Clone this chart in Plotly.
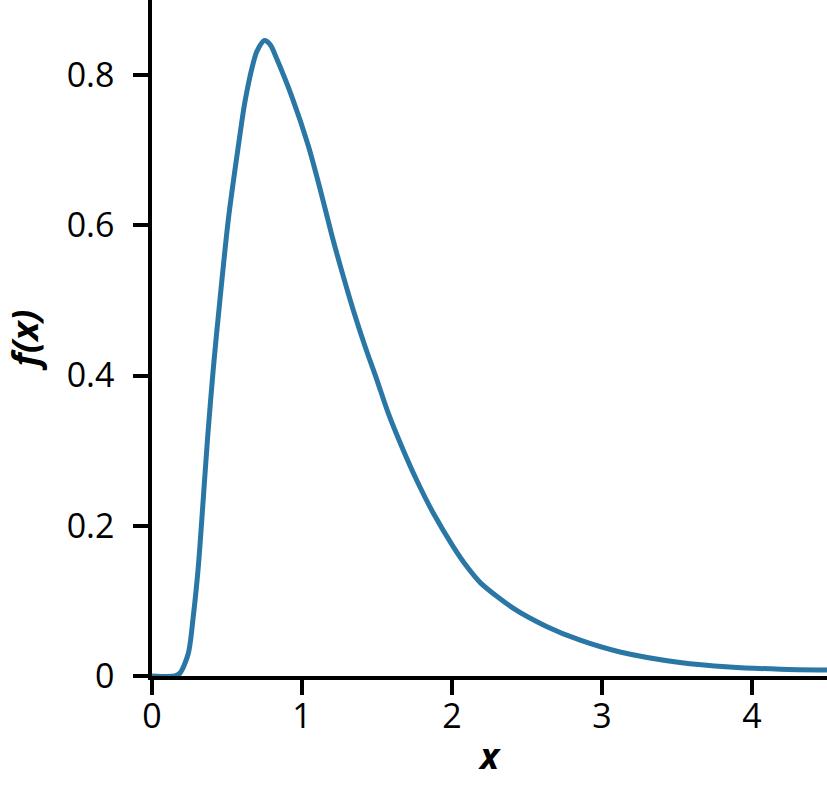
"""
Densité f(x) - courbe unique, reprise du graphique de référence
"""
import plotly.graph_objects as go

# valeurs
x_vals = [0, 0.153, 0.187, 0.242, 0.275, 0.309, 0.338, 0.371, 0.409, 0.453,
          0.509, 0.576, 0.62, 0.676, 0.70, 0.749, 0.79, 0.831, 0.931, 1.042,
          1.125, 1.20, 1.271, 1.342, 1.42, 1.498, 1.575, 1.664, 1.764, 1.875,
          2.009, 2.098, 2.19, 2.41, 2.63, 2.85, 3.12, 3.52, 3.85, 4.19, 4.5]
f_vals = [0, 0, 0.004, 0.030, 0.079, 0.146, 0.225, 0.318, 0.410, 0.501,
          0.608, 0.706, 0.765, 0.817, 0.832, 0.846, 0.840, 0.822, 0.772, 0.706,
          0.645, 0.586, 0.535, 0.487, 0.439, 0.395, 0.350, 0.306, 0.261, 0.217,
          0.172, 0.146, 0.124, 0.090, 0.066, 0.048, 0.032, 0.018, 0.012, 0.009, 0.008]

x_ticks = [0, 1, 2, 3, 4]
y_ticks = [0, 0.2, 0.4, 0.6, 0.8]
y_ticktext = ["0", "0.2", "0.4", "0.6", "0.8"]

LINE_COLOR = "#2a77a6"

fig = go.Figure()
fig.add_trace(go.Scatter(
    x=x_vals, y=f_vals,
    mode="lines",
    line=dict(color=LINE_COLOR, width=5, shape="spline", smoothing=0.8),
    showlegend=False,
))

axis_common = dict(
    showline=True, linecolor="black", linewidth=3.5,
    ticks="outside", ticklen=15, tickwidth=3.5, tickcolor="black",
    showgrid=False, zeroline=False,
    layer="below traces",
    tickfont=dict(family="Open Sans", size=34, color="black"),
)

fig.update_xaxes(
    range=[0, 4.5], tickvals=x_ticks,
    ticklabelstandoff=-8,
    title=dict(text="<b><i>x</i></b>", standoff=8,
               font=dict(family="Open Sans", size=36, color="black")),
    **axis_common
)
fig.update_yaxes(
    range=[0, 0.9], tickvals=y_ticks, ticktext=y_ticktext,
    ticklabelstandoff=12,
    title=dict(text="<b><i>f(x)</i></b>", standoff=24,
               font=dict(family="Open Sans", size=36, color="black")),
    **axis_common
)

fig.update_layout(
    width=827, height=812,
    margin=dict(l=152, r=0, t=0, b=136),
    plot_bgcolor="white", paper_bgcolor="white",
)

# pas de marge autour du graphique dans la page, pas de barre d'outils
fig.write_html("out.html", config={"displayModeBar": False},
               post_script="document.body.style.margin='0';")
